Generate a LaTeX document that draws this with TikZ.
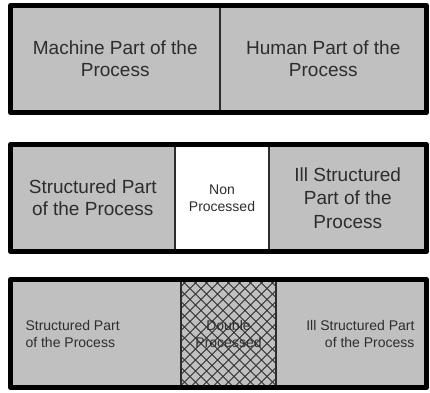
\documentclass[tikz,border=0pt]{standalone}
\usepackage{fontspec}
\setmainfont{Liberation Sans}
\usetikzlibrary{positioning}
\definecolor{cellgray}{RGB}{192,192,192}
\definecolor{inkgray}{RGB}{45,45,45}
\tikzset{
  cell/.style={draw=inkgray, line width=1.3pt, fill=cellgray, inner sep=0pt, outer sep=0pt, anchor=north west},
  frame/.style={draw=black, line width=5pt, line join=round},
  big/.style={font=\fontsize{19}{22}\selectfont, text=inkgray, align=center},
  small/.style={font=\fontsize{14}{17}\selectfont, text=inkgray, align=center},
  hatch/.style={draw=inkgray, line width=0.9pt}
}
\begin{document}
\begin{tikzpicture}[x=1pt,y=-1pt]
\useasboundingbox (0,0) rectangle (430,392);
% first bar
\node[cell, big, minimum width=209.5pt, minimum height=107pt] (machine) at (10.5,5.5) {Machine Part of the\\Process};
\node[cell, big, minimum width=206.5pt, minimum height=107pt] (human) at (machine.north east) {Human Part of the\\Process};
\draw[frame] (machine.north west) rectangle (human.south east);
% second bar
\node[cell, big, minimum width=164.5pt, minimum height=107pt] (structA) at (10.5,144.5) {Structured Part\\of the Process};
\node[cell, small, fill=white, minimum width=94pt, minimum height=107pt] (nonproc) at (structA.north east) {Non\\Processed};
\node[cell, big, font=\fontsize{19}{23.5}\selectfont, minimum width=157.5pt, minimum height=107pt] (illA) at (nonproc.north east) {Ill Structured\\Part of the\\Process};
\draw[frame] (structA.north west) rectangle (illA.south east);
% third bar
\node[cell, minimum width=170.5pt, minimum height=108pt] (structB) at (10.5,279.5) {};
\node[cell, small, minimum width=95pt, minimum height=108pt] (double) at (structB.north east) {Double\\Processed};
\node[cell, minimum width=150.5pt, minimum height=108pt] (illB) at (double.north east) {};
\node[small, align=left, anchor=west, right=11.5pt of structB.west] (structBtext) {Structured Part\\of the Process};
\node[small, align=right, anchor=east, left=8.5pt of illB.east] (illBtext) {Ill Structured Part\\of the Process};
\begin{scope}
  \clip (double.north west) rectangle (double.south east);
  \foreach \s in {-121,-110,...,121} {
    \draw[hatch] ([xshift=\s pt]double.north west) -- ++(108,108);
    \draw[hatch] ([xshift=\s pt]double.north east) -- ++(-108,108);
  }
\end{scope}
\draw[draw=inkgray, line width=1.3pt] (double.north west) rectangle (double.south east);
\draw[frame] (structB.north west) rectangle (illB.south east);
\end{tikzpicture}
\end{document}
